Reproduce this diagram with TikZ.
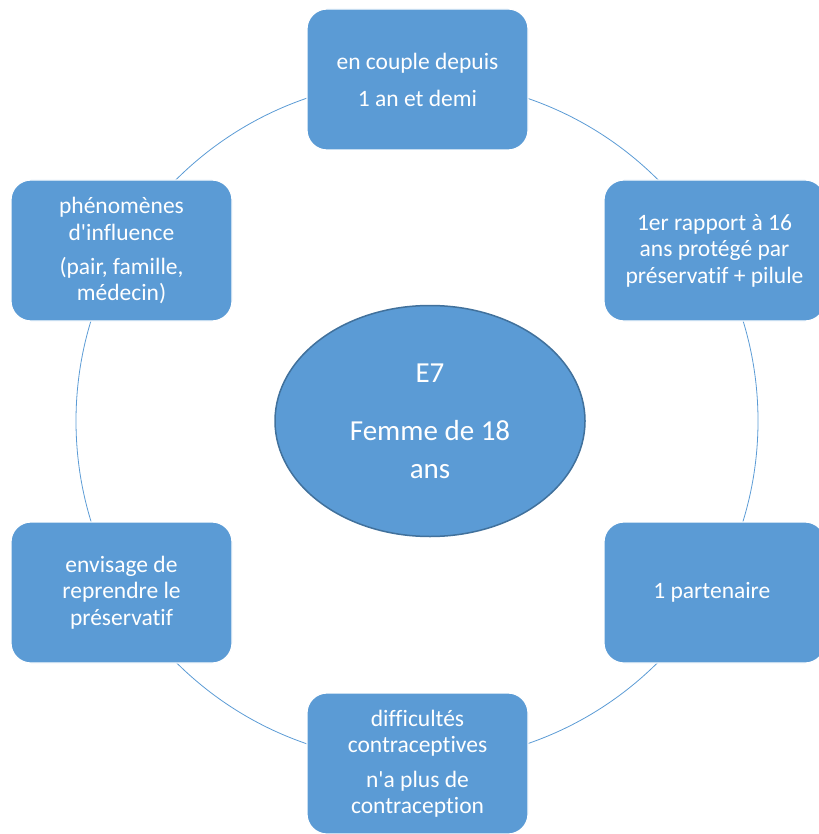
\documentclass[tikz,border=0pt]{standalone}
\usepackage{fontspec}
\setmainfont{Carlito}[Ligatures={TeXOff,CommonOff}]
\usetikzlibrary{shapes.geometric}
\definecolor{boxblue}{HTML}{5B9BD5}
\definecolor{rimblue}{HTML}{41719C}

\begin{document}
\begin{tikzpicture}[
    x=1pt, y=-1pt,
    infobox/.style={
        draw=white,
        line width=1.2pt,
        rounded corners=20pt,
        fill=boxblue,
        text=white,
        minimum width=221pt,
        minimum height=141pt,
        align=center,
        inner sep=4pt,
        font=\fontsize{23.5}{26.5}\selectfont
    },
    ring/.style={draw=boxblue, line width=0.8pt}
]
    \useasboundingbox (0,0) rectangle (818,834);

    % the circle behind the boxes
    \coordinate (hub) at (417,421);
    \draw[ring] (hub) circle [radius=341];

    \node[infobox] (couple) at (417.5,79.5) {
        en couple depuis\\[10.5pt] 1 an et demi
    };
    \node[infobox] (rapport) at (714.5,250.5) {
        1er rapport à 16\\ans protégé par\\préservatif + pilule
    };
    \node[infobox] (partenaire) at (714.5,592.5) {
        1 partenaire
    };
    \node[infobox] (difficultes) at (417.5,763.5) {
        difficultés\\contraceptives\\[8pt]n'a plus de\\contraception
    };
    \node[infobox] (reprise) at (121.5,592.5) {
        envisage de\\reprendre le\\préservatif
    };
    \node[infobox] (influence) at (121.5,250.5) {
        phénomènes\\d'influence\\[7.5pt](pair, famille,\\médecin)
    };

    % centre
    \node[
        ellipse,
        draw=rimblue,
        line width=1.5pt,
        fill=boxblue,
        text=white,
        minimum width=310pt,
        minimum height=231pt,
        inner sep=0pt,
        align=center,
        font=\fontsize{29}{38}\selectfont
    ] (profil) at (430,421) {
        E7\\[20pt]Femme de 18\\ans
    };
\end{tikzpicture}
\end{document}
